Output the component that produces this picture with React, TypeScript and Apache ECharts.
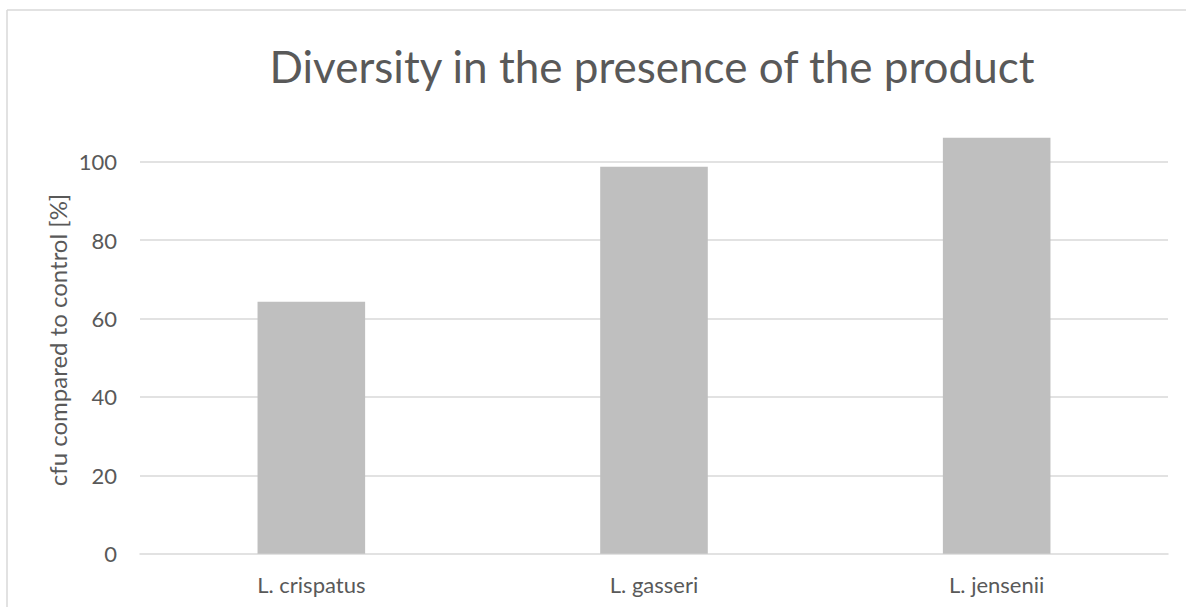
import React, { useEffect, useRef } from "react";
import * as echarts from "echarts";

const categories = ["L. crispatus", "L. gasseri", "L. jensenii"];
const values = [64.3, 98.7, 106.1];
const yTicks = [0, 20, 40, 60, 80, 100];
const chartTitle = "Diversity in the presence of the product";
const yTitle = "cfu compared to control [%]";

const FONT = "Lato";
const TEXT = "#595959";
const GRID = "#d9d9d9";

export default function App() {
  const ref = useRef<HTMLDivElement>(null);
  useEffect(() => {
    if (!ref.current) return;
    const chart = echarts.init(ref.current, null, { renderer: "svg" });
    const tickStep = yTicks[1] - yTicks[0];
    chart.setOption({
      animation: false,
      backgroundColor: "#ffffff",
      textStyle: { fontFamily: FONT },
      grid: { left: 140, right: 18, top: 83.3, bottom: 53.3, containLabel: false },
      xAxis: {
        type: "category",
        data: categories,
        axisLine: { show: true, lineStyle: { color: GRID, width: 1.5 } },
        axisTick: { show: false },
        axisLabel: { color: TEXT, fontFamily: FONT, fontSize: 22, margin: 20 },
      },
      yAxis: {
        type: "value",
        min: 0,
        max: yTicks[yTicks.length - 1] + tickStep,
        interval: tickStep,
        axisLine: { show: false },
        axisTick: { show: false },
        axisLabel: { color: TEXT, fontFamily: FONT, fontSize: 22, margin: 23, showMaxLabel: false },
        splitLine: { show: true, showMinLine: false, showMaxLine: false, lineStyle: { color: GRID, width: 1.5 } },
      },
      series: [
        {
          type: "bar",
          data: values,
          barWidth: "31.4%",
          itemStyle: { color: "#bfbfbf" },
          clip: false,
        },
      ],
      graphic: [
        {
          type: "line",
          shape: { x1: 7, y1: 10, x2: 1186, y2: 10 },
          style: { stroke: GRID, lineWidth: 1.5 },
          silent: true,
        },
        {
          type: "line",
          shape: { x1: 7, y1: 10, x2: 7, y2: 607 },
          style: { stroke: GRID, lineWidth: 1.5 },
          silent: true,
        },
        {
          type: "text",
          x: 652,
          y: 66,
          style: {
            text: chartTitle,
            fill: TEXT,
            font: `44px ${FONT}`,
            textAlign: "center",
            textVerticalAlign: "middle",
          },
        },
        {
          type: "text",
          x: 57,
          y: 340,
          rotation: Math.PI / 2,
          style: {
            text: yTitle,
            fill: TEXT,
            font: `24px ${FONT}`,
            textAlign: "center",
            textVerticalAlign: "middle",
          },
        },
      ],
    });
    return () => chart.dispose();
  }, []);
  return (
    <div
      ref={ref}
      style={{ position: "fixed", left: 0, top: 0, width: 1186, height: 607 }}
    />
  );
}
